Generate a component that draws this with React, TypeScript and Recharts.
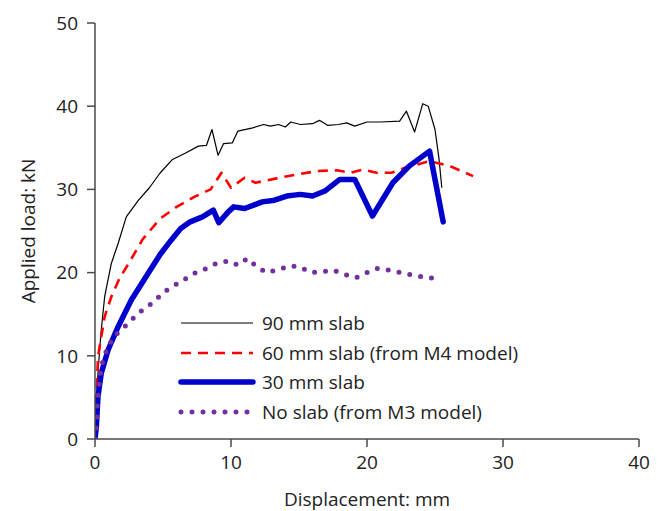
import React from 'react'
import { LineChart, Line, XAxis, YAxis } from 'recharts';

// displacement (mm) / applied load (kN)
const slab90 = [
  { x: 0, y: 0 }, { x: 0.22, y: 7.9 }, { x: 0.34, y: 10.7 }, { x: 0.46, y: 13.1 },
  { x: 0.71, y: 17.1 }, { x: 1.2, y: 21.1 }, { x: 1.7, y: 23.5 }, { x: 2.3, y: 26.7 },
  { x: 3.2, y: 28.7 }, { x: 4.0, y: 30.2 }, { x: 4.8, y: 32.0 }, { x: 5.7, y: 33.6 },
  { x: 6.7, y: 34.4 }, { x: 7.6, y: 35.2 }, { x: 8.2, y: 35.3 }, { x: 8.6, y: 37.2 },
  { x: 9.05, y: 34.1 }, { x: 9.45, y: 35.5 }, { x: 10.1, y: 35.6 }, { x: 10.5, y: 37.0 },
  { x: 11.6, y: 37.4 }, { x: 12.4, y: 37.8 }, { x: 12.9, y: 37.6 }, { x: 13.5, y: 37.8 },
  { x: 14.0, y: 37.5 }, { x: 14.4, y: 38.1 }, { x: 15.1, y: 37.8 }, { x: 16.0, y: 37.9 },
  { x: 16.5, y: 38.3 }, { x: 17.1, y: 37.7 }, { x: 17.9, y: 37.8 }, { x: 18.5, y: 38.0 },
  { x: 19.1, y: 37.6 }, { x: 20.0, y: 38.1 }, { x: 21.0, y: 38.1 }, { x: 22.4, y: 38.2 },
  { x: 22.9, y: 39.4 }, { x: 23.5, y: 36.9 }, { x: 24.1, y: 40.3 }, { x: 24.5, y: 40.0 },
  { x: 25.0, y: 37.2 }, { x: 25.3, y: 33.6 }, { x: 25.5, y: 30.2 },
];

const slab60 = [
  { x: 0, y: 0 }, { x: 0.22, y: 9.9 }, { x: 0.42, y: 11.9 }, { x: 0.71, y: 14.7 },
  { x: 1.2, y: 17.1 }, { x: 1.8, y: 19.3 }, { x: 2.55, y: 21.3 }, { x: 3.5, y: 24.0 },
  { x: 4.8, y: 26.5 }, { x: 6.0, y: 27.9 }, { x: 7.3, y: 29.1 }, { x: 8.5, y: 30.0 },
  { x: 9.3, y: 32.0 }, { x: 10.0, y: 30.2 }, { x: 11.0, y: 31.4 }, { x: 11.8, y: 30.8 },
  { x: 13.85, y: 31.5 }, { x: 16.3, y: 32.2 }, { x: 17.8, y: 32.3 }, { x: 18.8, y: 32.0 },
  { x: 19.7, y: 32.4 }, { x: 20.7, y: 32.0 }, { x: 21.8, y: 32.0 }, { x: 22.8, y: 32.6 },
  { x: 24.6, y: 33.4 }, { x: 26.1, y: 32.8 }, { x: 27.8, y: 31.6 },
];

const slab30 = [
  { x: 0, y: 0 }, { x: 0.1, y: 1.5 }, { x: 0.22, y: 5.1 }, { x: 0.46, y: 7.9 },
  { x: 0.96, y: 10.7 }, { x: 1.7, y: 13.5 }, { x: 2.67, y: 16.7 }, { x: 3.9, y: 19.9 },
  { x: 4.8, y: 22.2 }, { x: 5.6, y: 23.9 }, { x: 6.3, y: 25.3 }, { x: 7.0, y: 26.1 },
  { x: 7.9, y: 26.7 }, { x: 8.7, y: 27.5 }, { x: 9.1, y: 26.0 }, { x: 9.8, y: 27.3 },
  { x: 10.2, y: 27.9 }, { x: 11.0, y: 27.7 }, { x: 12.3, y: 28.5 }, { x: 13.2, y: 28.7 },
  { x: 14.1, y: 29.2 }, { x: 15.1, y: 29.4 }, { x: 16.0, y: 29.2 }, { x: 16.9, y: 29.8 },
  { x: 18.0, y: 31.2 }, { x: 19.1, y: 31.2 }, { x: 20.4, y: 26.8 }, { x: 21.9, y: 30.8 },
  { x: 23.1, y: 32.8 }, { x: 24.6, y: 34.6 }, { x: 25.6, y: 26.1 },
];

const noSlab = [
  { x: 0, y: 0 }, { x: 0.1, y: 1.5 }, { x: 0.15, y: 2.9 }, { x: 0.17, y: 4.3 },
  { x: 0.25, y: 5.7 }, { x: 0.34, y: 7.1 }, { x: 0.46, y: 8.5 }, { x: 0.64, y: 9.8 },
  { x: 0.98, y: 11.1 }, { x: 1.37, y: 12.3 }, { x: 2.0, y: 13.2 }, { x: 2.62, y: 14.2 },
  { x: 3.24, y: 15.2 }, { x: 3.95, y: 16.0 }, { x: 4.58, y: 16.9 }, { x: 5.2, y: 17.8 },
  { x: 5.98, y: 18.6 }, { x: 6.7, y: 19.3 }, { x: 7.4, y: 20.0 }, { x: 8.2, y: 20.5 },
  { x: 8.93, y: 21.1 }, { x: 9.77, y: 21.4 }, { x: 10.5, y: 20.9 }, { x: 11.2, y: 21.7 },
  { x: 11.9, y: 20.7 }, { x: 12.6, y: 20.0 }, { x: 13.4, y: 20.3 }, { x: 14.3, y: 20.8 },
  { x: 15.05, y: 20.7 }, { x: 15.9, y: 20.0 }, { x: 16.7, y: 20.1 }, { x: 17.5, y: 20.3 },
  { x: 18.3, y: 19.8 }, { x: 19.2, y: 19.4 }, { x: 20.0, y: 20.0 }, { x: 20.75, y: 20.5 },
  { x: 21.6, y: 20.3 }, { x: 22.5, y: 20.0 }, { x: 23.3, y: 19.7 }, { x: 24.1, y: 19.5 },
  { x: 25.0, y: 19.3 },
];

const xTicks = [0, 10, 20, 30, 40];
const yTicks = [0, 10, 20, 30, 40, 50];

const FONT = '"Open Sans", sans-serif';
const AXIS = '#4a4a4a';

const series = [
  { name: '90 mm slab', data: slab90, color: '#000000', width: 1.2, dash: undefined, cap: 'butt' },
  { name: '60 mm slab (from M4 model)', data: slab60, color: '#ff0000', width: 2.6, dash: '10 7', cap: 'butt' },
  { name: '30 mm slab', data: slab30, color: '#0000cc', width: 5.5, dash: undefined, cap: 'round' },
  { name: 'No slab (from M3 model)', data: noSlab, color: '#7030a0', width: 5, dash: '0 11', cap: 'round' },
];

function LegendBox() {
  return (
    <div style={{ position: 'absolute', left: 178, top: 308, fontFamily: FONT, fontSize: 19, color: '#222' }}>
      {series.map((s) => (
        <div key={s.name} style={{ display: 'flex', alignItems: 'center', height: 29.7 }}>
          <svg width={84} height={12}>
            <line x1={3} y1={6} x2={75} y2={6} stroke={s.color} strokeWidth={s.width}
              strokeDasharray={s.dash} strokeLinecap={s.cap as any} />
          </svg>
          <span style={{ whiteSpace: 'nowrap' }}>{s.name}</span>
        </div>
      ))}
    </div>
  );
}

export default function App() {
  return (
    <div style={{ position: 'absolute', left: 0, top: 0, width: 662, height: 511, background: '#fff' }}>
      <LineChart width={662} height={511} margin={{ top: 23, right: 23, bottom: 27, left: 35 }}>
        <XAxis type="number" dataKey="x" domain={[0, 40]} ticks={xTicks} allowDataOverflow
          stroke={AXIS} strokeWidth={1.5} tickSize={8} tickMargin={9} height={45}
          tick={{ fill: '#222', fontSize: 19, fontFamily: FONT }}
          label={{ value: 'Displacement: mm', position: 'insideBottom', offset: -22, fill: '#222', fontSize: 19, fontFamily: FONT }} />
        <YAxis type="number" dataKey="y" domain={[0, 50]} ticks={yTicks} allowDataOverflow
          stroke={AXIS} strokeWidth={1.5} tickSize={8} tickMargin={9} width={60}
          tick={{ fill: '#222', fontSize: 19, fontFamily: FONT }}
          label={{ value: 'Applied load: kN', angle: -90, position: 'insideLeft', offset: -7, fill: '#222', fontSize: 19, fontFamily: FONT, style: { textAnchor: 'middle' } }} />
        {series.map((s) => (
          <Line key={s.name} name={s.name} data={s.data} dataKey="y" type="linear"
            stroke={s.color} strokeWidth={s.width} strokeDasharray={s.dash}
            strokeLinecap={s.cap as any} strokeLinejoin="round"
            dot={false} activeDot={false} isAnimationActive={false} />
        ))}
      </LineChart>
      <LegendBox />
    </div>
  );
}
